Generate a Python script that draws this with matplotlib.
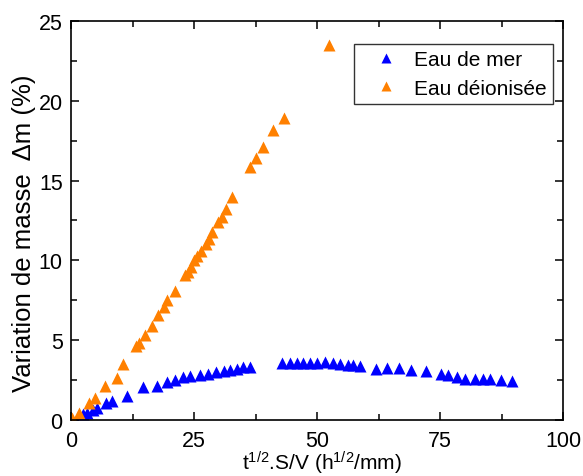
import matplotlib
matplotlib.use("Agg")
import matplotlib.pyplot as plt
from matplotlib.ticker import MultipleLocator

# Eau de mer
mer_x = [2.5, 3.2, 4.5, 5.2, 7.2, 8.3, 11.3, 14.7, 17.4, 19.6, 21.2, 22.8, 24.2,
         26.2, 27.9, 29.5, 31.0, 32.3, 33.7, 35.0, 36.4, 42.8, 44.5, 45.9, 47.2,
         48.6, 50.0, 51.6, 53.2, 54.6, 56.2, 57.4, 58.7, 62.0, 64.2, 66.7, 69.2,
         72.2, 75.3, 76.7, 78.5, 80.1, 82.1, 83.7, 85.2, 87.3, 89.6]
mer_y = [0.35, 0.45, 0.65, 0.75, 1.05, 1.2, 1.5, 2.05, 2.15, 2.35, 2.5, 2.7, 2.75,
         2.8, 2.9, 3.0, 3.1, 3.15, 3.2, 3.3, 3.35, 3.6, 3.6, 3.6, 3.6,
         3.6, 3.6, 3.63, 3.55, 3.5, 3.45, 3.45, 3.38, 3.2, 3.25, 3.25, 3.15,
         3.1, 2.9, 2.85, 2.7, 2.6, 2.6, 2.55, 2.55, 2.5, 2.45]

# Eau déionisée
deio_x = [0.1, 1.7, 3.7, 4.9, 6.9, 9.3, 10.6, 13.3, 13.9, 15.0, 16.4, 17.7, 18.9,
          19.6, 21.1, 23.2, 23.7, 24.3, 25.1, 25.7, 26.5, 27.4, 28.0, 28.7, 29.9,
          30.6, 31.6, 32.7, 36.4, 37.7, 39.0, 41.1, 43.2, 52.5]
deio_y = [0.1, 0.45, 1.05, 1.4, 2.1, 2.65, 3.5, 4.65, 4.8, 5.35, 5.9, 6.55, 7.1,
          7.5, 8.06, 9.1, 9.3, 9.6, 10.0, 10.3, 10.6, 11.0, 11.35, 11.8, 12.4,
          12.7, 13.2, 14.0, 15.85, 16.4, 17.1, 18.15, 18.9, 23.5]

plt.rcParams["font.family"] = ["Liberation Sans", "DejaVu Sans"]
plt.rcParams["mathtext.fontset"] = "custom"
plt.rcParams["mathtext.rm"] = "Liberation Sans"
plt.rcParams["mathtext.it"] = "Liberation Sans"

fig = plt.figure(figsize=(5.83, 4.77), dpi=100)
ax = fig.add_axes([0.1218, 0.1174, 0.8439, 0.8365])

ax.plot(mer_x, mer_y, ls="none", marker="^", ms=9, color="#0000ff",
        mec="none", label="Eau de mer")
ax.plot(deio_x, deio_y, ls="none", marker="^", ms=9, color="#ff8000",
        mec="none", label="Eau déionisée")

ax.set_xlim(0, 100)
ax.set_ylim(0, 25)
ax.xaxis.set_major_locator(MultipleLocator(25))
ax.xaxis.set_minor_locator(MultipleLocator(12.5))
ax.yaxis.set_major_locator(MultipleLocator(5))
ax.yaxis.set_minor_locator(MultipleLocator(2.5))
ax.tick_params(which="both", direction="in", top=True, right=True,
               labelsize=15.5, width=1.1)
ax.tick_params(which="major", length=6)
ax.tick_params(which="minor", length=4)
ax.tick_params(axis="x", which="major", pad=7)
ax.tick_params(axis="y", which="major", pad=6)
for s in ax.spines.values():
    s.set_linewidth(1.2)

ax.set_xlabel(r"t$^{1/2}$.S/V (h$^{1/2}$/mm)", fontsize=15)
ax.set_ylabel("Variation de masse  \u0394m (%)", fontsize=18.5)
ax.xaxis.set_label_coords(0.51, -0.072, transform=ax.transAxes)
ax.xaxis.label.set_va("top")
ax.yaxis.set_label_coords(-0.072, 0.471, transform=ax.transAxes)

leg = ax.legend(loc="upper right", bbox_to_anchor=(0.98, 0.942), fontsize=15,
                frameon=True, fancybox=False, edgecolor="black",
                borderaxespad=0, handletextpad=0.1, borderpad=0.3,
                labelspacing=0.45, handlelength=2.5, markerscale=0.85)
leg.get_frame().set_linewidth(1.0)

fig.savefig("out.png", dpi=100)
